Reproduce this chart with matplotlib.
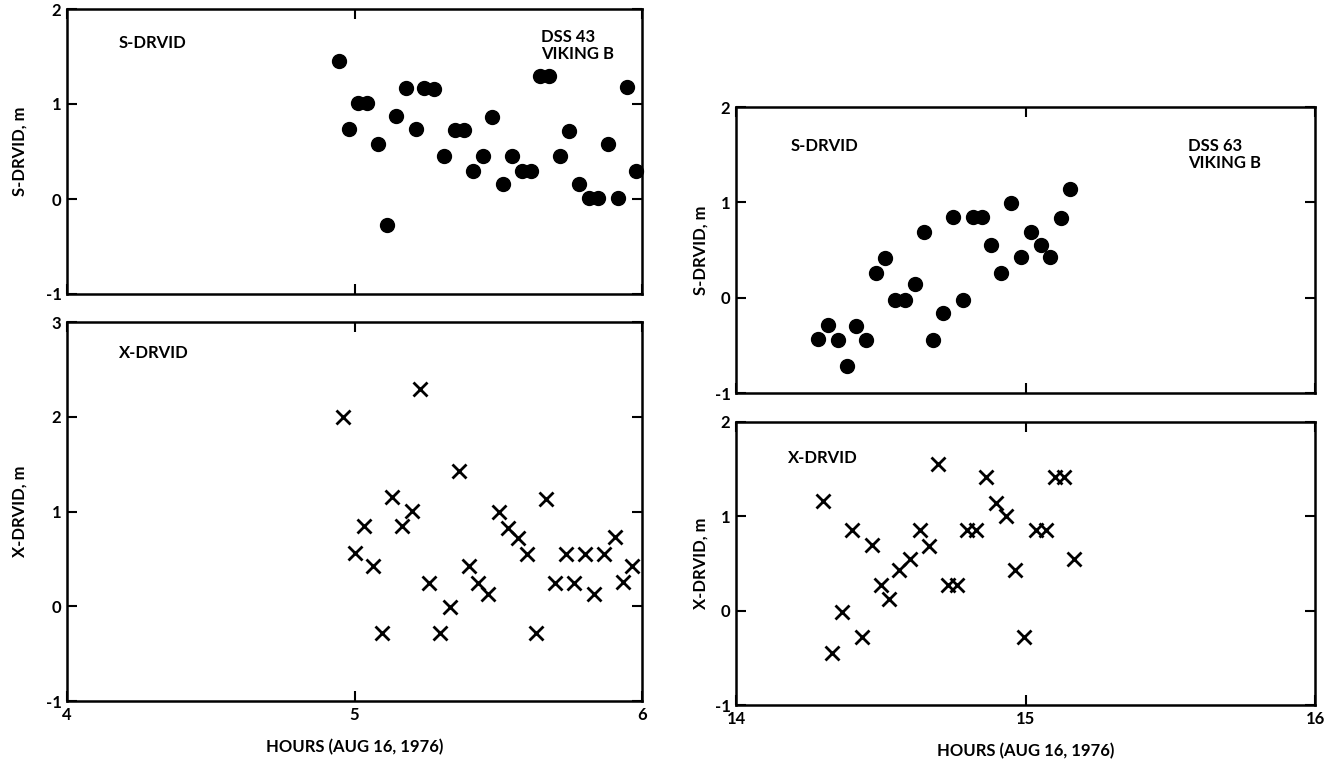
import matplotlib.pyplot as plt

plt.rcParams['font.family'] = ['Lato', 'DejaVu Sans']
plt.rcParams['font.weight'] = 'bold'
plt.rcParams['axes.labelweight'] = 'bold'

# DSS 43 (left), S-band DRVID, m
s43_hours = [4.947, 4.980, 5.012, 5.045, 5.080, 5.112, 5.143, 5.178, 5.213, 5.242,
             5.275, 5.311, 5.348, 5.380, 5.412, 5.446, 5.477, 5.515, 5.547, 5.582,
             5.615, 5.644, 5.678, 5.714, 5.747, 5.782, 5.814, 5.846, 5.880, 5.915,
             5.947, 5.978]
s43_drvid = [1.45, 0.74, 1.01, 1.01, 0.58, -0.27, 0.87, 1.17, 0.74, 1.17,
             1.16, 0.45, 0.73, 0.73, 0.30, 0.45, 0.86, 0.16, 0.45, 0.30,
             0.30, 1.30, 1.30, 0.45, 0.72, 0.16, 0.01, 0.01, 0.58, 0.01,
             1.18, 0.30]

# DSS 43 (left), X-band DRVID, m
x43_hours = [4.961, 5.000, 5.033, 5.064, 5.096, 5.131, 5.164, 5.200, 5.227, 5.259,
             5.296, 5.332, 5.364, 5.398, 5.430, 5.464, 5.501, 5.535, 5.567, 5.601,
             5.630, 5.667, 5.699, 5.736, 5.765, 5.800, 5.834, 5.868, 5.905, 5.934,
             5.966]
x43_drvid = [2.00, 0.56, 0.85, 0.43, -0.28, 1.15, 0.85, 1.01, 2.29, 0.25,
             -0.28, -0.01, 1.43, 0.43, 0.25, 0.13, 0.99, 0.83, 0.72, 0.55,
             -0.28, 1.13, 0.25, 0.55, 0.25, 0.55, 0.13, 0.55, 0.73, 0.26,
             0.43]

# DSS 63 (right), S-band DRVID, m
s63_hours = [14.282, 14.318, 14.351, 14.384, 14.416, 14.450, 14.483, 14.516, 14.549,
             14.584, 14.620, 14.649, 14.682, 14.716, 14.749, 14.783, 14.817, 14.850,
             14.882, 14.917, 14.951, 14.984, 15.019, 15.053, 15.084, 15.121, 15.155]
s63_drvid = [-0.43, -0.29, -0.44, -0.72, -0.30, -0.44, 0.26, 0.42, -0.02,
             -0.02, 0.14, 0.69, -0.44, -0.16, 0.85, -0.02, 0.85, 0.85,
             0.55, 0.26, 0.99, 0.43, 0.69, 0.55, 0.43, 0.84, 1.14]

# DSS 63 (right), X-band DRVID, m
x63_hours = [14.300, 14.331, 14.366, 14.401, 14.434, 14.469, 14.500, 14.530, 14.564,
             14.601, 14.635, 14.667, 14.697, 14.731, 14.763, 14.799, 14.830, 14.862,
             14.898, 14.931, 14.964, 14.996, 15.035, 15.070, 15.101, 15.134, 15.167]
x63_drvid = [1.16, -0.45, -0.01, 0.86, -0.28, 0.70, 0.27, 0.12, 0.43,
             0.55, 0.85, 0.69, 1.55, 0.27, 0.27, 0.85, 0.85, 1.42,
             1.14, 1.00, 0.43, -0.28, 0.85, 0.85, 1.42, 1.42, 0.55]

xlabel = 'HOURS (AUG 16, 1976)'
FS = 12

fig = plt.figure(figsize=(13.27, 7.61), dpi=100)

W, H = 1327, 761
def box(x0, y0, x1, y1):
    return [x0 / W, 1 - y1 / H, (x1 - x0) / W, (y1 - y0) / H]

ax_s43 = fig.add_axes(box(67, 9, 642, 294))
ax_x43 = fig.add_axes(box(67, 322, 642, 701))
ax_s63 = fig.add_axes(box(736, 107, 1315, 393))
ax_x63 = fig.add_axes(box(736, 422, 1315, 705))


def style(ax, xlim, ylim, xticks, yticks, show_x):
    ax.set_xlim(*xlim)
    ax.set_ylim(*ylim)
    ax.set_xticks(xticks)
    ax.set_yticks(yticks)
    ax.set_xticklabels([str(t) for t in xticks] if show_x else [])
    ax.set_yticklabels([str(t) for t in yticks])
    ax.tick_params(direction='in', length=7, width=1.5, top=True, right=True,
                   labelsize=FS, colors='black', pad=4)
    for sp in ax.spines.values():
        sp.set_linewidth(1.8)


# left column
ax_s43.plot(s43_hours, s43_drvid, 'o', color='black', markersize=10, clip_on=False)
style(ax_s43, (4, 6), (-1, 2), [4, 5, 6], [-1, 0, 1, 2], False)
ax_s43.set_ylabel('S-DRVID, m', fontsize=FS, labelpad=13)
ax_s43.text(0.09, 0.91, 'S-DRVID', transform=ax_s43.transAxes, fontsize=FS, va='top')
ax_s43.text(0.825, 0.93, 'DSS 43\nVIKING B', transform=ax_s43.transAxes, fontsize=FS,
            va='top', linespacing=1.05)

ax_x43.plot(x43_hours, x43_drvid, 'x', color='black', markersize=10, mew=2)
style(ax_x43, (4, 6), (-1, 3), [4, 5, 6], [-1, 0, 1, 2, 3], True)
ax_x43.set_ylabel('X-DRVID, m', fontsize=FS, labelpad=13)
ax_x43.set_xlabel(xlabel, fontsize=FS, labelpad=12)
ax_x43.text(0.09, 0.94, 'X-DRVID', transform=ax_x43.transAxes, fontsize=FS, va='top')

# right column
ax_s63.plot(s63_hours, s63_drvid, 'o', color='black', markersize=10)
style(ax_s63, (14, 16), (-1, 2), [14, 15, 16], [-1, 0, 1, 2], False)
ax_s63.set_ylabel('S-DRVID, m', fontsize=FS, labelpad=4)
ax_s63.text(0.095, 0.89, 'S-DRVID', transform=ax_s63.transAxes, fontsize=FS, va='top')
ax_s63.text(0.78, 0.89, 'DSS 63\nVIKING B', transform=ax_s63.transAxes, fontsize=FS,
            va='top', linespacing=1.05)

ax_x63.plot(x63_hours, x63_drvid, 'x', color='black', markersize=10, mew=2)
style(ax_x63, (14, 16), (-1, 2), [14, 15, 16], [-1, 0, 1, 2], True)
ax_x63.set_ylabel('X-DRVID, m', fontsize=FS, labelpad=4)
ax_x63.set_xlabel(xlabel, fontsize=FS, labelpad=12)
ax_x63.text(0.09, 0.9, 'X-DRVID', transform=ax_x63.transAxes, fontsize=FS, va='top')

fig.savefig('out.png', dpi=100)
